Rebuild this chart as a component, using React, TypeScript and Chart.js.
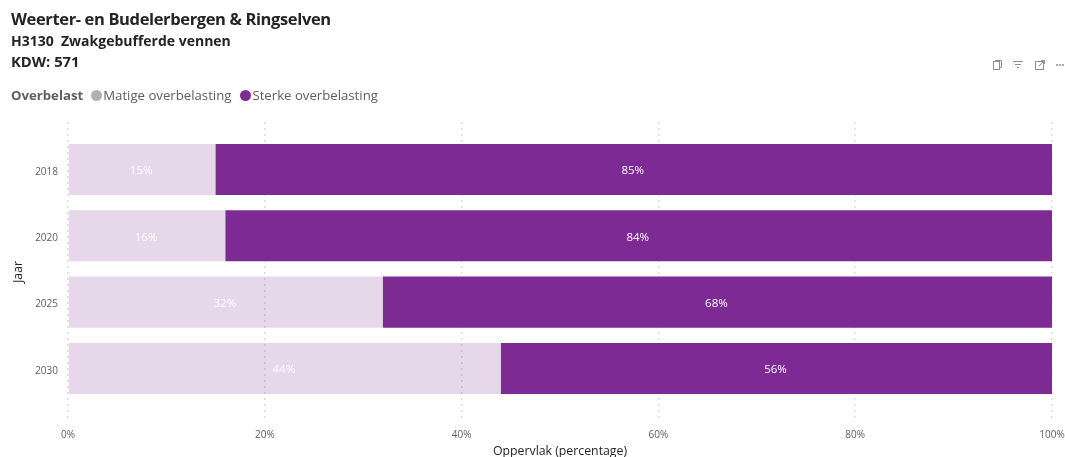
import React, { useEffect, useRef } from "react";
import { Chart, registerables } from "chart.js";

Chart.register(...registerables);

const years = ["2018", "2020", "2025", "2030"];
const matige = [15, 16, 32, 44];
const sterke = [85, 84, 68, 56];
const xTicks = [0, 20, 40, 60, 80, 100];

const FONT = '"Open Sans", "Noto Sans", sans-serif';
const PURPLE = "#7D2A95";
const PALE = "rgba(125, 42, 149, 0.19)";

// Writes each segment's percentage at the centre of its bar.
const segmentLabels = {
  id: "segmentLabels",
  afterDatasetsDraw(chart: any) {
    const { ctx } = chart;
    ctx.save();
    ctx.font = `11.5px ${FONT}`;
    ctx.fillStyle = "#FFFFFF";
    ctx.textAlign = "center";
    ctx.textBaseline = "middle";
    chart.data.datasets.forEach((ds: any, d: number) => {
      chart.getDatasetMeta(d).data.forEach((bar: any, i: number) => {
        const c = bar.getCenterPoint();
        ctx.fillText(`${ds.data[i].x}%`, c.x - 1, c.y + 1.5);
      });
    });
    ctx.restore();
  },
};

const dot = (color: string) => (
  <span
    style={{
      display: "inline-block",
      width: 11,
      height: 11,
      borderRadius: "50%",
      background: color,
      marginRight: 1,
    }}
  />
);

const iconStroke = "#8f8f8f";

function Toolbar() {
  return (
    <svg width={80} height={14} style={{ position: "absolute", left: 990, top: 58 }}>
      <g fill="none" stroke={iconStroke} strokeWidth={1}>
        <rect x={3.5} y={3.5} width={6} height={8} />
        <path d="M5.5 3.5V2.5h6v7h-2" />
        <path d="M23 3.5h10M25 6.5h6M27 9.5h2" />
        <rect x={45.5} y={3.5} width={8} height={8} />
        <path d="M49 8l5-5M51 2.5h3.5V6" />
      </g>
      <g fill={iconStroke}>
        <circle cx={67} cy={7} r={1} />
        <circle cx={70} cy={7} r={1} />
        <circle cx={73} cy={7} r={1} />
      </g>
    </svg>
  );
}

export default function App() {
  const canvasRef = useRef<HTMLCanvasElement>(null);

  useEffect(() => {
    const toPoints = (values: number[]) => values.map((x, y) => ({ x, y }));
    const chart = new Chart(canvasRef.current!, {
      type: "bar",
      data: {
        datasets: [
          {
            label: "Matige overbelasting",
            data: toPoints(matige),
            backgroundColor: PALE,
            barPercentage: 0.77,
            categoryPercentage: 1,
          },
          {
            label: "Sterke overbelasting",
            data: toPoints(sterke),
            backgroundColor: PURPLE,
            barPercentage: 0.77,
            categoryPercentage: 1,
          },
        ],
      } as any,
      plugins: [segmentLabels],
      options: {
        indexAxis: "y",
        responsive: false,
        animation: false,
        layout: { padding: { top: 122, right: 13, left: 0, bottom: 0 } },
        plugins: { legend: { display: false }, title: { display: false }, tooltip: { enabled: false } },
        scales: {
          x: {
            type: "linear",
            stacked: true,
            min: 0,
            max: 100,
            afterBuildTicks: (axis: any) => {
              axis.ticks = xTicks.map((value) => ({ value }));
            },
            afterFit: (axis: any) => {
              axis.height = 35;
              axis.paddingLeft = 0;
              axis.paddingRight = 0;
            },
            grid: {
              color: "#DEDCDA",
              lineWidth: 1.5,
              drawTicks: false,
              tickLength: 0,
            },
            // the dash set here also applies to the vertical grid lines
            border: { display: false, dash: [2, 4] },
            ticks: {
              color: "#605E5C",
              font: { family: FONT, size: 10 },
              padding: 7,
              maxRotation: 0,
              callback: (v: any) => `${v}%`,
            },
            title: {
              display: true,
              text: "Oppervlak (percentage)",
              color: "#252423",
              font: { family: FONT, size: 12.3 },
              padding: { top: 0, bottom: -1.5 },
            },
          },
          y: {
            type: "linear",
            offset: false,
            stacked: true,
            reverse: true,
            min: -0.716,
            max: 3.807,
            afterBuildTicks: (axis: any) => {
              axis.ticks = years.map((_, value) => ({ value }));
            },
            afterFit: (axis: any) => {
              axis.width = 68;
            },
            grid: { display: false },
            border: { display: false },
            ticks: {
              color: "#605E5C",
              font: { family: FONT, size: 10 },
              padding: 2,
              labelOffset: 2.5,
              callback: (v: any) => years[v] ?? "",
            },
            title: {
              display: true,
              text: "Jaar",
              color: "#252423",
              font: { family: FONT, size: 12.3 },
              padding: { top: 11, bottom: 0 },
            },
          },
        },
      },
    } as any);
    return () => chart.destroy();
  }, []);

  return (
    <div
      style={{
        position: "absolute",
        left: 0,
        top: 0,
        width: 1065,
        height: 457,
        overflow: "hidden",
        background: "#fff",
        fontFamily: FONT,
      }}
    >
      <canvas ref={canvasRef} width={1065} height={457} style={{ display: "block" }} />
      <div style={{ position: "absolute", left: 11, top: 7, fontSize: 16.5, letterSpacing: -0.37, fontWeight: 700, color: "#252423", lineHeight: "24px", whiteSpace: "nowrap" }}>
        Weerter- en Budelerbergen &amp; Ringselven
      </div>
      <div style={{ position: "absolute", left: 11, top: 31, fontSize: 14, fontWeight: 700, color: "#252423", lineHeight: "20px", whiteSpace: "pre" }}>
        H3130  Zwakgebufferde vennen
      </div>
      <div style={{ position: "absolute", left: 11, top: 51, fontSize: 14.8, fontWeight: 700, color: "#252423", lineHeight: "20px" }}>
        KDW: 571
      </div>
      <div style={{ position: "absolute", left: 11, top: 85, fontSize: 13.2, color: "#605E5C", lineHeight: "20px", whiteSpace: "nowrap", display: "flex", alignItems: "center" }}>
        <b style={{ marginRight: 8 }}>Overbelast</b>
        {dot("#B3B0AD")}
        <span style={{ marginRight: 9 }}>Matige overbelasting</span>
        {dot(PURPLE)}
        <span>Sterke overbelasting</span>
      </div>
      <Toolbar />
    </div>
  );
}
